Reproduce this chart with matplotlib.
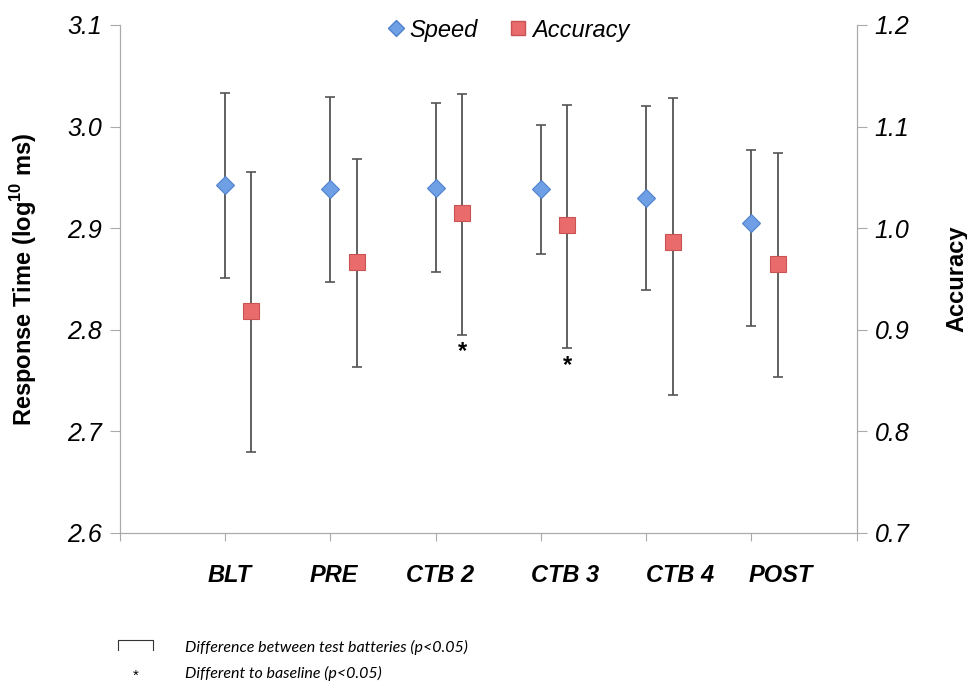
import numpy as np
import matplotlib.pyplot as plt
from matplotlib.lines import Line2D

plt.rcParams['font.family'] = ['Liberation Sans', 'DejaVu Sans']

# test batteries
batteries = ['BLT', 'PRE', 'CTB 2', 'CTB 3', 'CTB 4', 'POST']

# speed: mean response time with upper / lower limits (log10 ms)
speed_mean = [2.942, 2.939, 2.940, 2.939, 2.930, 2.905]
speed_hi = [3.033, 3.029, 3.023, 3.002, 3.020, 2.977]
speed_lo = [2.851, 2.847, 2.857, 2.875, 2.839, 2.804]

# accuracy: mean with upper / lower limits
acc_mean = [0.918, 0.967, 1.015, 1.003, 0.986, 0.965]
acc_hi = [1.055, 1.068, 1.132, 1.121, 1.128, 1.074]
acc_lo = [0.780, 0.863, 0.895, 0.882, 0.836, 0.854]

# different to baseline (p<0.05)
acc_sig = [False, False, True, True, False, False]

fig = plt.figure(figsize=(9.67, 6.84), dpi=100)
ax = fig.add_axes([0.124, 0.2208, 0.762, 0.7427])
ax2 = ax.twinx()

x = np.arange(1, len(batteries) + 1)
x_acc = x + 0.25

err_kw = dict(fmt='none', ecolor='#555555', elinewidth=1.3, capsize=3.5,
              capthick=1.2, zorder=2)

sm = np.array(speed_mean)
ax.errorbar(x, sm, yerr=[sm - np.array(speed_lo), np.array(speed_hi) - sm],
            **err_kw)
ax.plot(x, sm, 'D', ms=9, mfc='#6fa0e6', mec='#4f82cc', mew=0.8, zorder=3)

am = np.array(acc_mean)
ax2.errorbar(x_acc, am, yerr=[am - np.array(acc_lo), np.array(acc_hi) - am],
             **err_kw)
ax2.plot(x_acc, am, 's', ms=11, mfc='#ea6b6b', mec='#c95252', mew=0.8,
         zorder=3)

# asterisks under significant accuracy values
for xi, lo, sig in zip(x_acc, acc_lo, acc_sig):
    if sig:
        ax2.annotate('*', (xi, lo), xytext=(0, -4), textcoords='offset points',
                     ha='center', va='top', fontsize=17, fontweight='bold')

# axes limits and ticks
ax.set_xlim(0, 7)
ax.set_ylim(2.6, 3.1)
ax2.set_ylim(0.7, 1.2)
ax.set_yticks(np.arange(2.6, 3.11, 0.1))
ax.set_yticklabels([f'{v:.1f}' for v in np.arange(2.6, 3.11, 0.1)])
ax2.set_yticks(np.arange(0.7, 1.21, 0.1))
ax2.set_yticklabels([f'{v:.1f}' for v in np.arange(0.7, 1.21, 0.1)])

label_shift = [0.04, 0.03, 0.04, 0.23, 0.32, 0.28]
ax.set_xticks(np.arange(0, 8))
ax.set_xticklabels([])
ax.set_xticks(x + np.array(label_shift), minor=True)
ax.set_xticklabels(batteries, minor=True, fontsize=17, fontweight='bold',
                   fontstyle='italic')
ax.tick_params(axis='x', which='minor', length=0, pad=22)
ax.tick_params(axis='x', which='major', length=6, color='#aaaaaa')

for a in (ax, ax2):
    a.tick_params(axis='y', length=7, color='#aaaaaa', labelsize=18, pad=6)
    for lab in a.get_yticklabels():
        lab.set_fontstyle('italic')
    for s in a.spines.values():
        s.set_color('#aaaaaa')
    a.spines['top'].set_visible(False)

ax.set_ylabel('Response Time (log$^{\\mathregular{10}}$ ms)', fontsize=17,
              fontweight='bold', labelpad=20)
ax2.set_ylabel('Accuracy', fontsize=17, fontweight='bold', rotation=90,
               labelpad=26)

# legend
handles = [
    Line2D([], [], ls='none', marker='D', ms=8, mfc='#6fa0e6', mec='#4f82cc'),
    Line2D([], [], ls='none', marker='s', ms=10, mfc='#ea6b6b', mec='#c95252'),
]
fig.legend(handles, ['Speed', 'Accuracy'], loc='center',
           bbox_to_anchor=(0.524, 0.956), ncol=2, frameon=False,
           prop={'size': 17, 'style': 'italic'}, handletextpad=0.1,
           columnspacing=1.2, handlelength=1.0)

# notes below the chart
fig.add_artist(Line2D([0.122, 0.122, 0.158, 0.158],
                      [0.049, 0.064, 0.064, 0.049],
                      color='#333333', lw=0.8))
fig.text(0.191, 0.054, 'Difference between test batteries (p<0.05)',
         fontsize=11.5, fontstyle='italic', family='Lato', va='center')
fig.text(0.140, 0.012, '*', fontsize=11, ha='center', va='center')
fig.text(0.191, 0.015, 'Different to baseline (p<0.05)',
         fontsize=11.5, fontstyle='italic', family='Lato', va='center')

fig.savefig('out.png', dpi=100)
